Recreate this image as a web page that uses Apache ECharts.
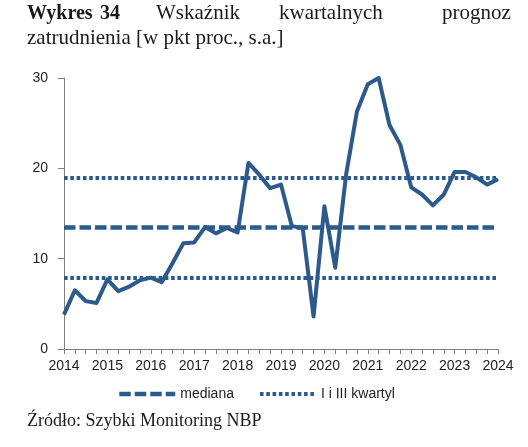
<!DOCTYPE html>
<html>
<head>
<meta charset="utf-8">
<script src="https://cdn.jsdelivr.net/npm/echarts@6/dist/echarts.min.js"></script>
<style>
  html, body { margin: 0; padding: 0; background: #fff; }
  #chart { width: 528px; height: 447px; }
</style>
</head>
<body>
<div id="chart"></div>
<script>
// kwartaly 2014 Q1 - 2024 Q1
var quarters = [
  "2014 Q1", "2014 Q2", "2014 Q3", "2014 Q4",
  "2015 Q1", "2015 Q2", "2015 Q3", "2015 Q4",
  "2016 Q1", "2016 Q2", "2016 Q3", "2016 Q4",
  "2017 Q1", "2017 Q2", "2017 Q3", "2017 Q4",
  "2018 Q1", "2018 Q2", "2018 Q3", "2018 Q4",
  "2019 Q1", "2019 Q2", "2019 Q3", "2019 Q4",
  "2020 Q1", "2020 Q2", "2020 Q3", "2020 Q4",
  "2021 Q1", "2021 Q2", "2021 Q3", "2021 Q4",
  "2022 Q1", "2022 Q2", "2022 Q3", "2022 Q4",
  "2023 Q1", "2023 Q2", "2023 Q3", "2023 Q4",
  "2024 Q1"
];
var wskaznik = [
  3.8, 6.5, 5.3, 5.1,
  7.7, 6.4, 6.9, 7.6,
  7.9, 7.4, 9.5, 11.7,
  11.8, 13.5, 12.8, 13.4,
  12.9, 20.6, 19.3, 17.8,
  18.2, 13.6, 13.4, 3.6,
  15.8, 9.0, 19.3, 26.3,
  29.3, 30.0, 24.8, 22.6,
  17.9, 17.1, 15.9, 17.1,
  19.6, 19.6, 19.0, 18.2,
  18.8
];
var mediana = 13.5;
var kwartyle = [7.9, 19.0];
var yTicks = [0, 10, 20, 30];

var blue = "#2d5a8c";
var dashStyle = { color: blue, width: 4.5, type: [11.5, 4], cap: "butt" };
var dotStyle = { color: blue, width: 4, type: [3.6, 2.7], cap: "butt" };
var serif = "'Liberation Serif'";

var myChart = echarts.init(document.getElementById("chart"));

var option = {
  animation: false,
  textStyle: { fontFamily: "Liberation Sans" },
  grid: { left: 64, right: 30, top: 78, bottom: 98, containLabel: false },
  // tytul wyjustowany jak w oryginale
  graphic: [
    { type: "text", left: 27, top: 4, style: { text: "Wykres", font: "bold 20px " + serif, fill: "#1a1a1a" } },
    { type: "text", left: 100, top: 4, style: { text: "34", font: "bold 20px " + serif, fill: "#1a1a1a" } },
    { type: "text", left: 156, top: 3, style: { text: "Wskaźnik", font: "21px " + serif, fill: "#1a1a1a" } },
    { type: "text", left: 279, top: 3, style: { text: "kwartalnych", font: "21px " + serif, fill: "#1a1a1a" } },
    { type: "text", left: 442, top: 3, style: { text: "prognoz", font: "21px " + serif, fill: "#1a1a1a" } },
    { type: "text", left: 27, top: 28, style: { text: "zatrudnienia [w pkt proc., s.a.]", font: "21px " + serif, fill: "#1a1a1a" } },
    { type: "text", left: 27, top: 412, style: { text: "Źródło: Szybki Monitoring NBP", font: "18px " + serif, fill: "#1a1a1a" } }
  ],
  legend: {
    left: 112,
    top: 382,
    itemWidth: 56,
    itemHeight: 10,
    itemGap: 24,
    itemStyle: { opacity: 0 },
    textStyle: { fontSize: 14, color: "#222", fontFamily: "Liberation Sans" },
    data: [
      { name: "mediana", lineStyle: dashStyle },
      { name: "I i III kwartyl", lineStyle: dotStyle }
    ]
  },
  xAxis: {
    type: "category",
    data: quarters,
    boundaryGap: false,
    axisLine: { lineStyle: { color: "#808080", width: 1 } },
    axisTick: { show: true, interval: 0, length: 5, lineStyle: { color: "#808080" } },
    axisLabel: {
      interval: 3,
      margin: 10,
      fontSize: 14,
      color: "#222",
      formatter: function (v) { return v.slice(0, 4); }
    },
    splitLine: { show: false }
  },
  yAxis: {
    type: "value",
    min: yTicks[0],
    max: yTicks[yTicks.length - 1],
    interval: 10,
    axisLine: { show: true, lineStyle: { color: "#808080", width: 1 } },
    axisTick: { show: true, length: 6, lineStyle: { color: "#808080" } },
    axisLabel: { fontSize: 14, color: "#222", margin: 16 },
    splitLine: { show: false }
  },
  series: [
    {
      name: "mediana",
      type: "line",
      data: [],
      symbol: "none",
      z: 1,
      lineStyle: dashStyle,
      itemStyle: { color: blue },
      markLine: {
        silent: true,
        symbol: "none",
        label: { show: false },
        lineStyle: dashStyle,
        data: [{ yAxis: mediana }]
      }
    },
    {
      name: "I i III kwartyl",
      type: "line",
      data: [],
      symbol: "none",
      z: 1,
      lineStyle: dotStyle,
      itemStyle: { color: blue },
      markLine: {
        silent: true,
        symbol: "none",
        label: { show: false },
        lineStyle: dotStyle,
        data: [{ yAxis: kwartyle[0] }, { yAxis: kwartyle[1] }]
      }
    },
    {
      name: "wskaźnik",
      type: "line",
      data: wskaznik,
      symbol: "none",
      z: 3,
      lineStyle: { color: blue, width: 4, join: "round" }
    }
  ]
};

myChart.setOption(option);
window.addEventListener("resize", function () {
  myChart.resize();
});
</script>
</body>
</html>
